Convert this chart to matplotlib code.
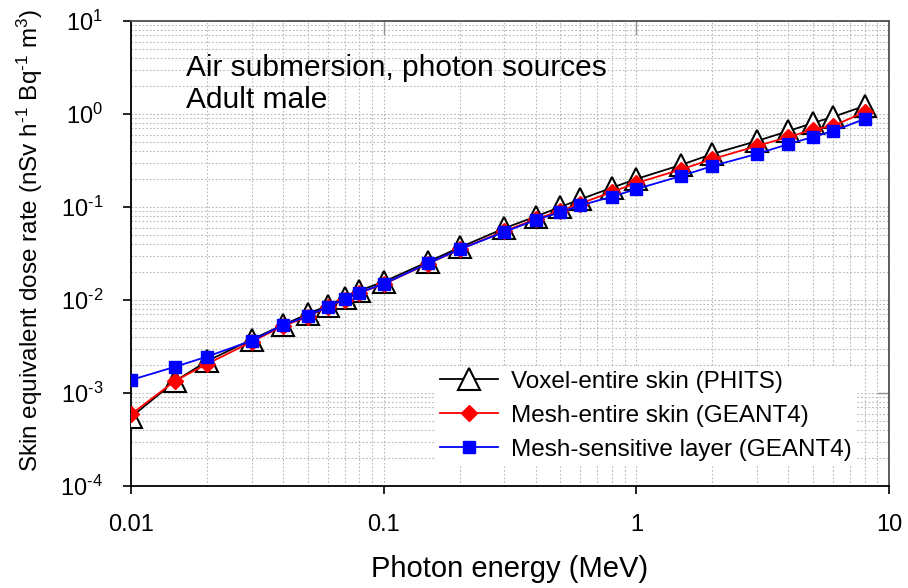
import matplotlib
matplotlib.use("Agg")
import matplotlib.pyplot as plt
from matplotlib.ticker import LogLocator, FixedLocator, FixedFormatter, NullFormatter

plt.rcParams['font.family'] = ['Liberation Sans', 'DejaVu Sans']
plt.rcParams['mathtext.fontset'] = 'custom'
plt.rcParams['mathtext.rm'] = 'Liberation Sans'
plt.rcParams['mathtext.it'] = 'Liberation Sans:italic'
plt.rcParams['mathtext.bf'] = 'Liberation Sans:bold'

# Photon energy (MeV)
energy = [0.01, 0.015, 0.02, 0.03, 0.04, 0.05, 0.06, 0.07, 0.08, 0.1,
          0.15, 0.2, 0.3, 0.4, 0.5, 0.6, 0.8, 1, 1.5, 2, 3, 4, 5, 6, 8]

# Skin equivalent dose rate (nSv h-1 Bq-1 m3)
voxel_entire = [5.5e-4, 1.35e-3, 2.2e-3, 3.75e-3, 5.4e-3, 7.05e-3, 8.7e-3,
                1.06e-2, 1.26e-2, 1.57e-2, 2.58e-2, 3.67e-2, 5.9e-2, 7.9e-2,
                0.100, 0.121, 0.161, 0.200, 0.283, 0.372, 0.512, 0.656, 0.80,
                0.93, 1.22]
mesh_entire = [5.9e-4, 1.36e-3, 2.05e-3, 3.55e-3, 5.25e-3, 6.6e-3, 8.4e-3,
               1.01e-2, 1.19e-2, 1.48e-2, 2.46e-2, 3.5e-2, 5.5e-2, 7.4e-2,
               9.1e-2, 0.109, 0.145, 0.181, 0.253, 0.328, 0.453, 0.566, 0.681,
               0.743, 1.05]
mesh_sensitive = [1.38e-3, 1.92e-3, 2.46e-3, 3.65e-3, 5.39e-3, 6.7e-3, 8.5e-3,
                  1.02e-2, 1.2e-2, 1.49e-2, 2.48e-2, 3.51e-2, 5.39e-2, 7.25e-2,
                  8.77e-2, 0.104, 0.129, 0.156, 0.215, 0.276, 0.372, 0.475,
                  0.566, 0.656, 0.883]

series_labels = ["Voxel-entire skin (PHITS)",
                 "Mesh-entire skin (GEANT4)",
                 "Mesh-sensitive layer (GEANT4)"]
x_ticks = [0.01, 0.1, 1, 10]
x_tick_labels = ["0.01", "0.1", "1", "10"]
y_ticks = [1e-4, 1e-3, 1e-2, 1e-1, 1e0, 1e1]
y_tick_labels = [r"$10^{\text{-4}}$", r"$10^{\text{-3}}$", r"$10^{\text{-2}}$",
                 r"$10^{\text{-1}}$", r"$10^{0}$", r"$10^{1}$"]

W, H = 908, 588
fig = plt.figure(figsize=(W / 100, H / 100), dpi=100)
ax = fig.add_axes([131 / W, 1 - 486 / H, (889 - 131) / W, (486 - 21) / H])

ax.set_xscale('log')
ax.set_yscale('log')
ax.set_xlim(0.01, 10)
ax.set_ylim(1e-4, 10)

ax.plot(energy, voxel_entire, color='black', lw=1.3, marker='^', ms=16.5,
        mfc='white', mec='black', mew=1.5, label=series_labels[0], zorder=3)
ax.plot(energy, mesh_entire, color='#ff0000', lw=1.3, marker='D', ms=8.5,
        mfc='#ff0000', mec='#ff0000', label=series_labels[1], zorder=4)
ax.plot(energy, mesh_sensitive, color='#0000ff', lw=1.3, marker='s', ms=8.5,
        mfc='#0000ff', mec='#0000ff', label=series_labels[2], zorder=5)

# ticks and grid
ax.xaxis.set_major_locator(FixedLocator(x_ticks))
ax.xaxis.set_major_formatter(FixedFormatter(x_tick_labels))
ax.xaxis.set_minor_locator(LogLocator(base=10, subs=range(2, 10), numticks=20))
ax.xaxis.set_minor_formatter(NullFormatter())
ax.yaxis.set_major_locator(FixedLocator(y_ticks))
ax.yaxis.set_major_formatter(FixedFormatter(y_tick_labels))
ax.yaxis.set_minor_locator(LogLocator(base=10, subs=range(2, 10), numticks=20))
ax.yaxis.set_minor_formatter(NullFormatter())

ax.tick_params(which='major', direction='out', length=6, width=1.2,
               labelsize=17, color='black')
ax.tick_params(axis='x', which='major', pad=14)
ax.tick_params(axis='y', which='major', pad=14)
ax.tick_params(which='minor', length=0)

ax.grid(True, which='both', color='#b8b8b8', lw=0.8, linestyle=(0, (1.5, 1.8)))
ax.set_axisbelow(True)

for side in ('left', 'bottom'):
    ax.spines[side].set_linewidth(1.3)
    ax.spines[side].set_color('black')
for side in ('top', 'right'):
    ax.spines[side].set_linewidth(1.3)
    ax.spines[side].set_color('#505050')

# small inward ticks on top and right
for v in x_ticks[1:-1]:
    ax.plot([v, v], [10, 10 ** 0.86], color='#909090', lw=1, zorder=2)
ax.plot([10 ** 0.955, 10], [1e-3, 1e-3], color='#909090', lw=1, zorder=2)

ax.set_xlabel("Photon energy (MeV)", fontsize=21)
ax.xaxis.set_label_coords(0.5, -0.148)
fig.text(30 / W, 1 - 240 / H,
         r"Skin equivalent dose rate (nSv h$^{\text{-1}}$ Bq$^{\text{-1}}$ m$^{3}$)",
         rotation=90, fontsize=17.5, ha='center', va='center')

fig.text(186 / W, 1 - 76 / H, "Air submersion, photon sources",
         fontsize=21.5, ha='left', va='baseline')
fig.text(186 / W, 1 - 108 / H, "Adult male",
         fontsize=21.5, ha='left', va='baseline')

leg = ax.legend(loc='upper left', bbox_to_anchor=(436 / W, 1 - 367 / H),
                bbox_transform=fig.transFigure, fontsize=17.5,
                frameon=True, facecolor='white', edgecolor='none',
                framealpha=1, fancybox=False, borderpad=0.15,
                borderaxespad=0, handlelength=2.4, handletextpad=0.55,
                labelspacing=0.5)
leg.set_zorder(6)

fig.savefig("out.png", dpi=100)
